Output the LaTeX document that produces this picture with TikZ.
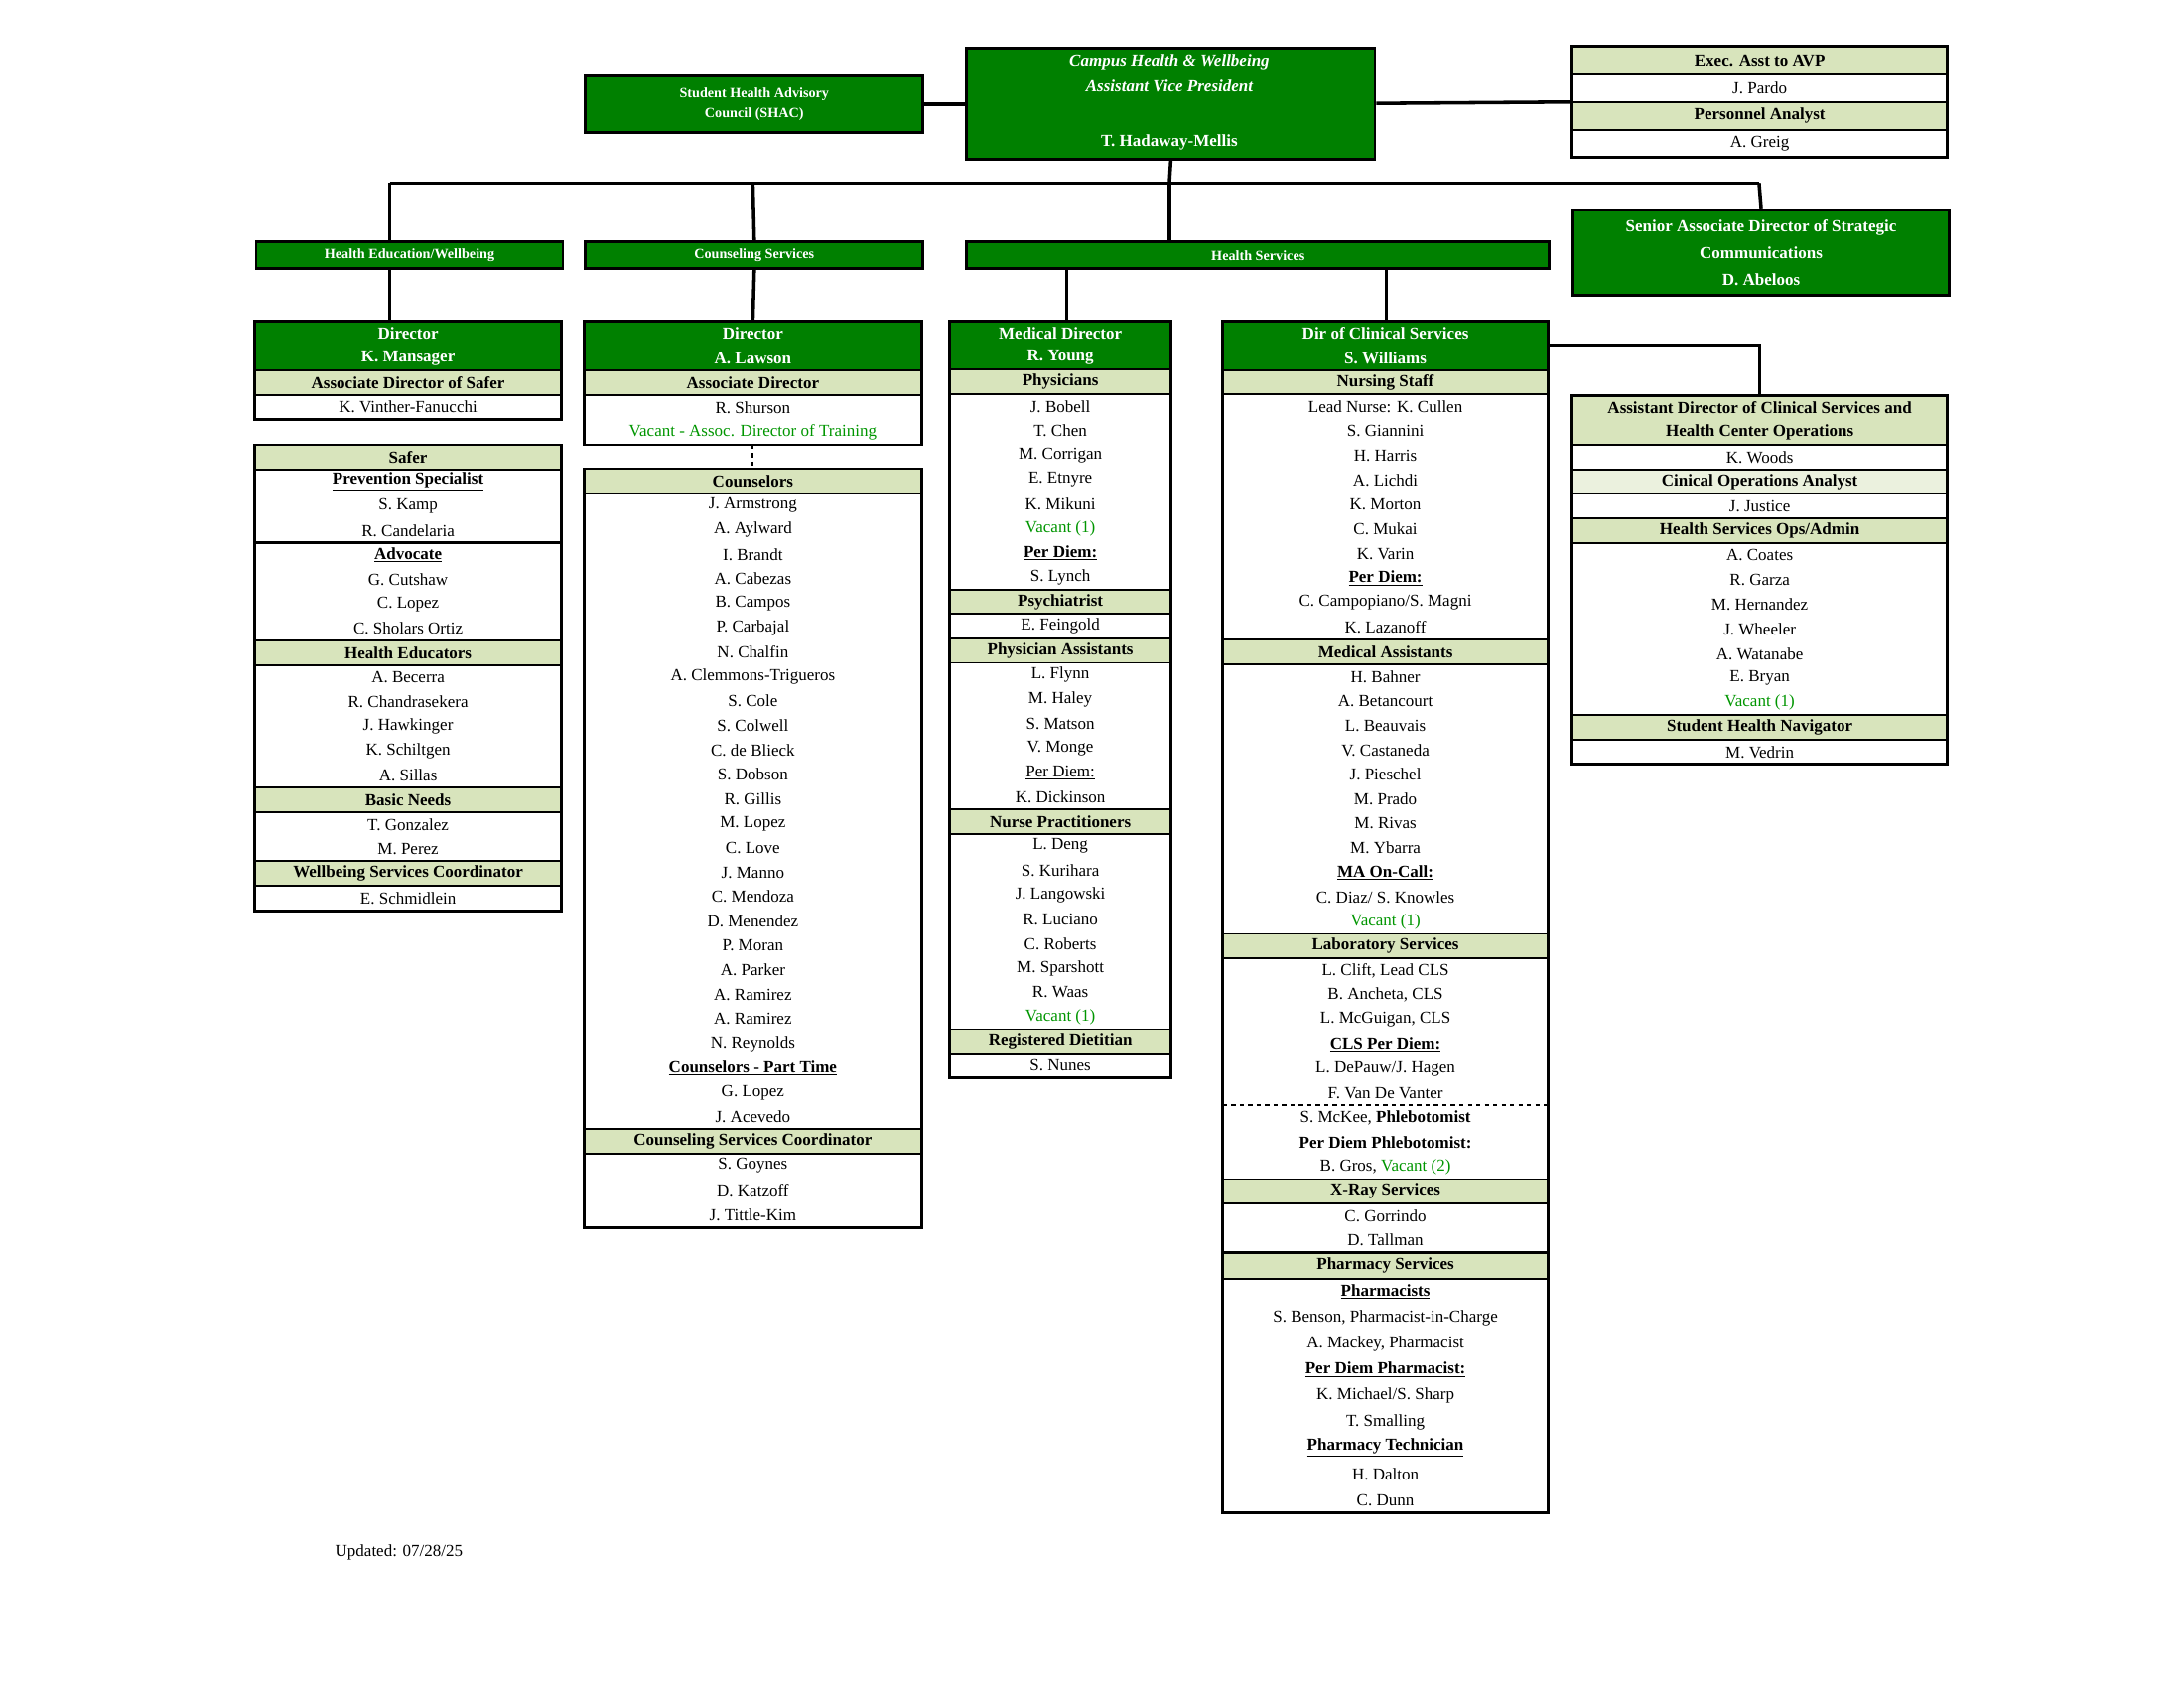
\documentclass[tikz,border=0pt]{standalone}
\usepackage{fontspec}
\setmainfont{Liberation Serif}
\definecolor{hgreen}{RGB}{0,128,0}
\definecolor{subfill}{RGB}{216,228,188}
\definecolor{lightfill}{RGB}{235,241,222}
\definecolor{vgreen}{RGB}{0,150,0}
\tikzset{
 outer/.style={draw=black,line width=2pt},
 sep/.style={draw=black,line width=1.3pt},
 conn/.style={draw=black,line width=2.5pt},
 rowtxt/.style={inner sep=0pt},
 gbox/.style={draw=black,line width=2pt,fill=hgreen,text=white,font=\bfseries,inner sep=0pt,anchor=north west,align=center}
}
\newcommand\rowtext[5]{\node[rowtxt] (\rname) at ({(#1+#2)/2},{(#3+#4)/2}) {#5};}
\newcommand\orowp[5]{\rowtext{#1}{#2}{#3}{#4}{#5}}
\newcommand\orowv[5]{\rowtext{#1}{#2}{#3}{#4}{\color{vgreen}#5}}
\newcommand\orowu[5]{\rowtext{#1}{#2}{#3}{#4}{\underline{\textbf{#5}}}}
\newcommand\oroww[5]{\rowtext{#1}{#2}{#3}{#4}{\underline{#5}}}
\newcommand\orowk[5]{\draw[outer] (#1,#3)--(#2,#3);\rowtext{#1}{#2}{#3}{#4}{#5}}
\newcommand\orowd[5]{\draw[dashed,line width=1.5pt] (#1,#3)--(#2,#3);\rowtext{#1}{#2}{#3}{#4}{#5}}
\newcommand\orows[5]{\fill[subfill] (#1,#3) rectangle (#2,#4);\draw[sep] (#1,#3)--(#2,#3) (#1,#4)--(#2,#4);\rowtext{#1}{#2}{#3}{#4}{\textbf{#5}}}
\newcommand\orowl[5]{\fill[lightfill] (#1,#3) rectangle (#2,#4);\draw[sep] (#1,#3)--(#2,#3) (#1,#4)--(#2,#4);\rowtext{#1}{#2}{#3}{#4}{\textbf{#5}}}
\newcommand\orowa[5]{\fill[subfill] (#1,#3) rectangle (#2,#4);\draw[sep] (#1,#3)--(#2,#3);\rowtext{#1}{#2}{#3}{#4}{\textbf{#5}}}
\newcommand\orowb[5]{\fill[subfill] (#1,#3) rectangle (#2,#4);\draw[sep] (#1,#4)--(#2,#4);\rowtext{#1}{#2}{#3}{#4}{\textbf{#5}}}
\newcommand\orowh[5]{\fill[hgreen] (#1,#3) rectangle (#2,#4);\rowtext{#1}{#2}{#3}{#4}{\color{white}\textbf{#5}}}
\newcommand\orowg[5]{\fill[hgreen] (#1,#3) rectangle (#2,#4);\draw[sep] (#1,#4)--(#2,#4);\rowtext{#1}{#2}{#3}{#4}{\color{white}\textbf{#5}}}
\newcommand\colbox[7]{%
 \coordinate (#1-n) at ({(#2+#3)/2},#4);
 \coordinate (#1-s) at ({(#2+#3)/2},#5);
 \foreach \ty/\tx [count=\i] in {#7}{%
  \pgfmathsetmacro\ya{#4+(\i-1)*#6}%
  \pgfmathsetmacro\yb{#4+\i*#6}%
  \edef\rname{#1-\i}%
  \csname orow\ty\endcsname{#2}{#3}{\ya}{\yb}{\tx}}%
 \draw[outer] (#2,#4) rectangle (#3,#5);}
\begin{document}
\begin{tikzpicture}[x=1pt,y=-1pt,every node/.append style={font=\fontsize{12}{14}\selectfont}]
\useasboundingbox[fill=white] (0,0) rectangle (1552,1200);
% top boxes
\node[gbox,minimum width=240pt,minimum height=40pt] (shac) at (415,53) {Student Health Advisory\\[2pt]Council (SHAC)};
\node[gbox,minimum width=290pt,minimum height=79pt] (avp) at (686,33) {};
\node[rowtxt,text=white,font=\fontsize{12}{19}\selectfont\bfseries\itshape,align=center] (avpt) at (831,52) {Campus Health \& Wellbeing\\Assistant Vice President};
\node[rowtxt,text=white,font=\fontsize{12}{14}\selectfont\bfseries] (avpn) at (831,101) {T. Hadaway-Mellis};
\colbox{exec}{1117}{1384}{33}{112}{19.75}{s/{Exec. Asst to AVP},p/{J. Pardo},s/{Personnel Analyst},p/{A. Greig}}
\node[gbox,minimum width=267pt,minimum height=61pt,font=\fontsize{12}{19}\selectfont\bfseries] (senior) at (1117,148) {Senior Associate Director of Strategic\\Communications\\D. Abeloos};
% department bars
\node[gbox,minimum width=218pt,minimum height=19pt] (hed) at (181,171) {Health Education/Wellbeing};
\node[gbox,minimum width=240pt,minimum height=19pt] (csb) at (415,171) {Counseling Services};
\node[gbox,minimum width=414pt,minimum height=19pt] (hsb) at (686,171) {Health Services};
% columns
\colbox{c1a}{181}{399}{228}{298}{17.5}{h/{Director},g/{K. Mansager},s/{Associate Director of Safer},p/{K. Vinther-Fanucchi}}
\colbox{c1b}{181}{399}{316}{647}{17.4}{s/{Safer},u/{Prevention Specialist},p/{S. Kamp},p/{R. Candelaria},k/{\underline{\textbf{Advocate}}},p/{G. Cutshaw},p/{C. Lopez},p/{C. Sholars Ortiz},s/{Health Educators},p/{A. Becerra},p/{R. Chandrasekera},p/{J. Hawkinger},p/{K. Schiltgen},p/{A. Sillas},s/{Basic Needs},p/{T. Gonzalez},p/{M. Perez},s/{Wellbeing Services Coordinator},p/{E. Schmidlein}}
\colbox{c2a}{415}{655}{228}{316}{17.6}{h/{Director},g/{A. Lawson},s/{Associate Director},p/{R. Shurson},v/{Vacant - Assoc. Director of Training}}
\colbox{c2b}{415}{655}{333}{872}{17.38}{s/{Counselors},p/{J. Armstrong},p/{A. Aylward},p/{I. Brandt},p/{A. Cabezas},p/{B. Campos},p/{P. Carbajal},p/{N. Chalfin},p/{A. Clemmons-Trigueros},p/{S. Cole},p/{S. Colwell},p/{C. de Blieck},p/{S. Dobson},p/{R. Gillis},p/{M. Lopez},p/{C. Love},p/{J. Manno},p/{C. Mendoza},p/{D. Menendez},p/{P. Moran},p/{A. Parker},p/{A. Ramirez},p/{A. Ramirez},p/{N. Reynolds},u/{Counselors - Part Time},p/{G. Lopez},p/{J. Acevedo},s/{Counseling Services Coordinator},p/{S. Goynes},p/{D. Katzoff},p/{J. Tittle-Kim}}
\colbox{c3}{675}{832}{228}{766}{17.35}{h/{Medical Director},g/{R. Young},s/{Physicians},p/{J. Bobell},p/{T. Chen},p/{M. Corrigan},p/{E. Etnyre},p/{K. Mikuni},v/{Vacant (1)},u/{Per Diem:},p/{S. Lynch},s/{Psychiatrist},p/{E. Feingold},s/{Physician Assistants},p/{L. Flynn},p/{M. Haley},p/{S. Matson},p/{V. Monge},w/{Per Diem:},p/{K. Dickinson},s/{Nurse Practitioners},p/{L. Deng},p/{S. Kurihara},p/{J. Langowski},p/{R. Luciano},p/{C. Roberts},p/{M. Sparshott},p/{R. Waas},v/{Vacant (1)},s/{Registered Dietitian},p/{S. Nunes}}
\colbox{c4a}{869}{1100}{228}{890}{17.42}{h/{Dir of Clinical Services},g/{S. Williams},s/{Nursing Staff},p/{Lead Nurse: K. Cullen},p/{S. Giannini},p/{H. Harris},p/{A. Lichdi},p/{K. Morton},p/{C. Mukai},p/{K. Varin},u/{Per Diem:},p/{C. Campopiano/S. Magni},p/{K. Lazanoff},s/{Medical Assistants},p/{H. Bahner},p/{A. Betancourt},p/{L. Beauvais},p/{V. Castaneda},p/{J. Pieschel},p/{M. Prado},p/{M. Rivas},p/{M. Ybarra},u/{MA On-Call:},p/{C. Diaz/ S. Knowles},v/{Vacant (1)},s/{Laboratory Services},p/{L. Clift, Lead CLS},p/{B. Ancheta, CLS},p/{L. McGuigan, CLS},u/{CLS Per Diem:},p/{L. DePauw/J. Hagen},p/{F. Van De Vanter},d/{S. McKee, \textbf{Phlebotomist}},p/{\textbf{Per Diem Phlebotomist:}},p/{B. Gros, \textcolor{vgreen}{Vacant (2)}},s/{X-Ray Services},p/{C. Gorrindo},p/{D. Tallman}}
\colbox{c4b}{869}{1100}{890}{1075}{18.5}{s/{Pharmacy Services},u/{Pharmacists},p/{S. Benson, Pharmacist-in-Charge},p/{A. Mackey, Pharmacist},u/{Per Diem Pharmacist:},p/{K. Michael/S. Sharp},p/{T. Smalling},u/{Pharmacy Technician},p/{H. Dalton},p/{C. Dunn}}
\colbox{c5}{1117}{1384}{281}{543}{17.47}{a/{Assistant Director of Clinical Services and},b/{Health Center Operations},p/{K. Woods},l/{Cinical Operations Analyst},p/{J. Justice},s/{Health Services Ops/Admin},p/{A. Coates},p/{R. Garza},p/{M. Hernandez},p/{J. Wheeler},p/{A. Watanabe},p/{E. Bryan},v/{Vacant (1)},s/{Student Health Navigator},p/{M. Vedrin}}
\node[rowtxt,anchor=west] (upd) at (238,1103) {Updated: 07/28/25};
% connectors
\coordinate (busL) at (277,130);
\coordinate (busR) at (1250,130);
\coordinate (busC) at (831,130);
\coordinate (busM) at (535,130);
\coordinate (execW) at (1117,72.5);
\coordinate (hsL) at (758,190);
\coordinate (hsR) at (985,190);
\coordinate (c4arm) at (1100,245);
\draw[conn] (shac.east) -- (shac.east -| avp.west);
\draw[conn] (avp.east) -- (execW);
\draw[conn] (avp.south) -- (busC);
\draw[conn] (busL) -- (busR);
\draw[conn] (busL) -- (busL |- hed.north);
\draw[conn] (busC) -- (hsb.north -| busC);
\draw[conn] (busL |- hed.south) -- (busL |- c1a-n);
\draw[conn] (busM) -- (csb.north);
\draw[conn] (csb.south) -- (c2a-n);
\draw[conn] (busR) -- (senior.north);
\draw[conn] (hsL) -- (hsL |- c3-n);
\draw[conn] (hsR) -- (hsR |- c4a-n);
\draw[conn] (c4arm) -| (c5-n);
\draw[line width=1.5pt,dashed] (c2a-s) -- (c2b-n);
\end{tikzpicture}
\end{document}
